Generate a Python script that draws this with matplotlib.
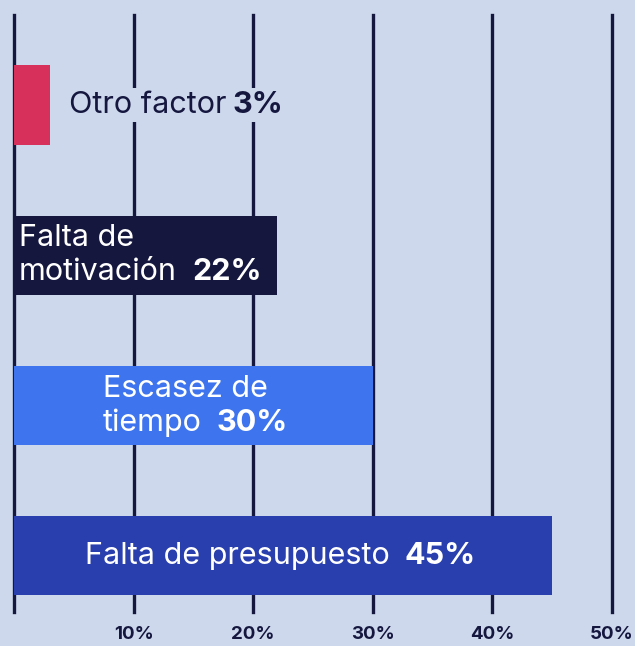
import matplotlib.pyplot as plt

plt.rcParams['font.family'] = ['Inter', 'DejaVu Sans']

# data
categories = ['Otro factor', 'Falta de\nmotivación', 'Escasez de\ntiempo', 'Falta de presupuesto']
values = [3, 22, 30, 45]
colors = ['#d7315b', '#15173f', '#3e75ee', '#2a3fae']
tick_vals = [10, 20, 30, 40, 50]
tick_labels = ['10%', '20%', '30%', '40%', '50%']

bg = '#cdd8ec'
navy = '#15173f'

fig = plt.figure(figsize=(6.35, 6.46), dpi=100, facecolor=bg)
ax = fig.add_axes([14/635, 1 - 612/646, (612 - 14)/635, 597/646])
ax.set_facecolor(bg)

for x in [0] + tick_vals:
    ax.axvline(x, color=navy, lw=2.4, zorder=1, clip_on=False)

ypos = list(range(len(values)))
ax.barh(ypos, values, height=0.53, color=colors, zorder=2)

ax.set_xlim(0, 50)
ax.set_ylim(3.375, -0.6)
for s in ax.spines.values():
    s.set_visible(False)
ax.set_yticks([])
ax.set_xticks(tick_vals)
ax.set_xticklabels(tick_labels, fontsize=13.5, fontweight='bold', color=navy)
ax.tick_params(axis='x', length=0, pad=10)

fs = 22


def label(x, y, lines, pct, color, gap, box=None):
    # lines before the last one in regular weight, last line gets the bold percent
    *first, last = lines.split('\n')
    n = len(first)
    dy = 0.226
    y0 = y - dy * n / 2
    for i, t in enumerate(first):
        ax.text(x, y0 + i * dy, t, fontsize=fs, color=color, va='center', zorder=3)
    yl = y0 + n * dy
    t = ax.text(x, yl, last, fontsize=fs, color=color, va='center', zorder=3, bbox=box)
    ax.annotate(pct, xy=(1, 0), xycoords=t, xytext=(gap, 0),
                textcoords='offset points', fontsize=fs, fontweight='bold',
                color=color, va='bottom', zorder=3, bbox=box)


gapbox = dict(facecolor=bg, edgecolor='none', pad=2)
label(4.6, ypos[0], categories[0], f'{values[0]}%', navy, 4, gapbox)
label(0.4, ypos[1], categories[1], f'{values[1]}%', 'white', 11)
label(7.4, ypos[2], categories[2], f'{values[2]}%', 'white', 11)
label(5.9, ypos[3], categories[3], f'{values[3]}%', 'white', 11)

fig.savefig('out.png', dpi=100, facecolor=bg)
